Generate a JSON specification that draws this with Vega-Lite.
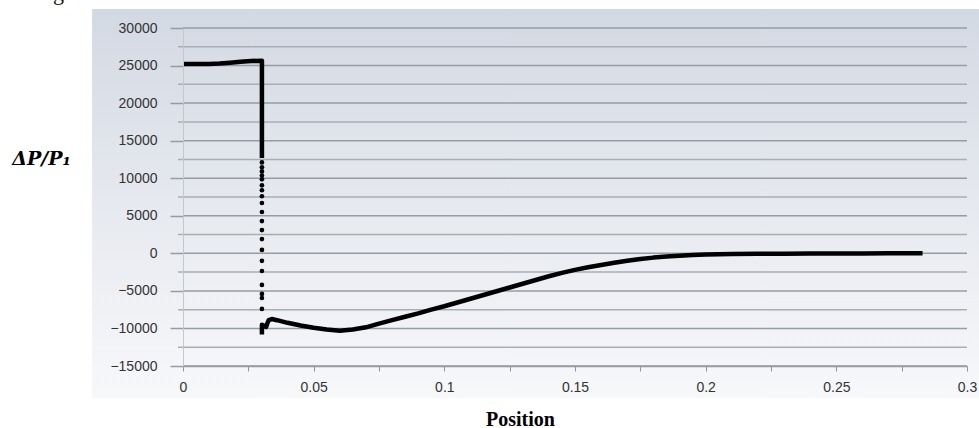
{
  "$schema": "https://vega.github.io/schema/vega-lite/v6.json",
  "autosize": "none",
  "width": 784,
  "height": 338,
  "padding": {"left": 183, "top": 28, "right": 12, "bottom": 62},
  "background": "#ffffff",
  "config": {"view": {"stroke": null}},
  "title": {
    "text": "to Figure 3.",
    "anchor": "start",
    "frame": "group",
    "font": "Liberation Serif",
    "fontSize": 22,
    "fontWeight": "normal",
    "color": "#111111",
    "baseline": "alphabetic",
    "offset": 0,
    "dx": -171,
    "dy": 13
  },
  "datasets": {
    "grid": [
      {"v": -15000}, {"v": -12500}, {"v": -10000}, {"v": -7500}, {"v": -5000},
      {"v": -2500}, {"v": 0}, {"v": 2500}, {"v": 5000}, {"v": 7500},
      {"v": 10000}, {"v": 12500}, {"v": 15000}, {"v": 17500}, {"v": 20000},
      {"v": 22500}, {"v": 25000}, {"v": 27500}, {"v": 30000}
    ],
    "curve": [
      {"position": 0, "dp": 25200, "seg": "upper"},
      {"position": 0.005, "dp": 25200, "seg": "upper"},
      {"position": 0.01, "dp": 25220, "seg": "upper"},
      {"position": 0.014, "dp": 25260, "seg": "upper"},
      {"position": 0.018, "dp": 25380, "seg": "upper"},
      {"position": 0.022, "dp": 25500, "seg": "upper"},
      {"position": 0.026, "dp": 25600, "seg": "upper"},
      {"position": 0.0302, "dp": 25650, "seg": "upper"},
      {"position": 0.0302, "dp": 12700, "seg": "upper"},
      {"position": 0.0302, "dp": -10800, "seg": "lower"},
      {"position": 0.0302, "dp": -9500, "seg": "lower"},
      {"position": 0.031, "dp": -9650, "seg": "lower"},
      {"position": 0.0318, "dp": -9800, "seg": "lower"},
      {"position": 0.0322, "dp": -9400, "seg": "lower"},
      {"position": 0.0328, "dp": -8900, "seg": "lower"},
      {"position": 0.034, "dp": -8750, "seg": "lower"},
      {"position": 0.036, "dp": -8900, "seg": "lower"},
      {"position": 0.04, "dp": -9250, "seg": "lower"},
      {"position": 0.045, "dp": -9600, "seg": "lower"},
      {"position": 0.05, "dp": -9900, "seg": "lower"},
      {"position": 0.055, "dp": -10150, "seg": "lower"},
      {"position": 0.06, "dp": -10300, "seg": "lower"},
      {"position": 0.065, "dp": -10150, "seg": "lower"},
      {"position": 0.07, "dp": -9850, "seg": "lower"},
      {"position": 0.075, "dp": -9350, "seg": "lower"},
      {"position": 0.08, "dp": -8900, "seg": "lower"},
      {"position": 0.085, "dp": -8450, "seg": "lower"},
      {"position": 0.09, "dp": -8000, "seg": "lower"},
      {"position": 0.095, "dp": -7500, "seg": "lower"},
      {"position": 0.1, "dp": -7050, "seg": "lower"},
      {"position": 0.105, "dp": -6550, "seg": "lower"},
      {"position": 0.11, "dp": -6050, "seg": "lower"},
      {"position": 0.115, "dp": -5550, "seg": "lower"},
      {"position": 0.12, "dp": -5050, "seg": "lower"},
      {"position": 0.125, "dp": -4550, "seg": "lower"},
      {"position": 0.13, "dp": -4050, "seg": "lower"},
      {"position": 0.135, "dp": -3550, "seg": "lower"},
      {"position": 0.14, "dp": -3050, "seg": "lower"},
      {"position": 0.145, "dp": -2600, "seg": "lower"},
      {"position": 0.15, "dp": -2200, "seg": "lower"},
      {"position": 0.155, "dp": -1850, "seg": "lower"},
      {"position": 0.16, "dp": -1550, "seg": "lower"},
      {"position": 0.165, "dp": -1250, "seg": "lower"},
      {"position": 0.17, "dp": -980, "seg": "lower"},
      {"position": 0.175, "dp": -760, "seg": "lower"},
      {"position": 0.18, "dp": -570, "seg": "lower"},
      {"position": 0.185, "dp": -420, "seg": "lower"},
      {"position": 0.19, "dp": -310, "seg": "lower"},
      {"position": 0.195, "dp": -230, "seg": "lower"},
      {"position": 0.2, "dp": -170, "seg": "lower"},
      {"position": 0.21, "dp": -100, "seg": "lower"},
      {"position": 0.22, "dp": -60, "seg": "lower"},
      {"position": 0.23, "dp": -40, "seg": "lower"},
      {"position": 0.24, "dp": -25, "seg": "lower"},
      {"position": 0.25, "dp": -15, "seg": "lower"},
      {"position": 0.26, "dp": -10, "seg": "lower"},
      {"position": 0.27, "dp": -5, "seg": "lower"},
      {"position": 0.283, "dp": 0, "seg": "lower"}
    ],
    "drop": [
      {"position": 0.0302, "dp": 12100},
      {"position": 0.0302, "dp": 11450},
      {"position": 0.0302, "dp": 10900},
      {"position": 0.0302, "dp": 10350},
      {"position": 0.0302, "dp": 9850},
      {"position": 0.0302, "dp": 9050},
      {"position": 0.0302, "dp": 8400},
      {"position": 0.0302, "dp": 7600},
      {"position": 0.0302, "dp": 6700},
      {"position": 0.0302, "dp": 5500},
      {"position": 0.0302, "dp": 4300},
      {"position": 0.0302, "dp": 3100},
      {"position": 0.0302, "dp": 1900},
      {"position": 0.0302, "dp": 450},
      {"position": 0.0302, "dp": -1000},
      {"position": 0.0302, "dp": -2350},
      {"position": 0.0302, "dp": -4200},
      {"position": 0.0302, "dp": -5400},
      {"position": 0.0302, "dp": -5950},
      {"position": 0.0302, "dp": -7400}
    ]
  },
  "layer": [
    {
      "data": {"values": [{}]},
      "mark": {
        "type": "rect",
        "fill": {
          "gradient": "linear",
          "x1": 0, "y1": 0, "x2": 0, "y2": 1,
          "stops": [
            {"offset": 0, "color": "#d3d9e3"},
            {"offset": 0.5, "color": "#e6e9ef"},
            {"offset": 1, "color": "#f7f8fa"}
          ]
        }
      },
      "encoding": {
        "x": {"datum": -0.0348, "type": "quantitative", "scale": {"domain": [0, 0.3], "nice": false, "zero": false},
          "axis": {
            "zindex": 1,
            "title": "Position",
            "titleFont": "Liberation Serif",
            "titleFontSize": 20,
            "titleFontWeight": "bold",
            "titleColor": "#000000",
            "titleX": 337,
            "titleY": 53,
            "titleBaseline": "middle",
            "titleAlign": "center",
            "values": [0, 0.025, 0.05, 0.075, 0.1, 0.125, 0.15, 0.175, 0.2, 0.225, 0.25, 0.275, 0.3],
            "tickCount": 30,
            "format": "~g",
            "labelExpr": "abs(round(datum.value * 20) - datum.value * 20) < 0.000001 ? datum.label : ''",
            "labelFont": "Liberation Sans",
            "labelFontSize": 14,
            "labelColor": "#333333",
            "labelPadding": 9,
            "labelFlush": false,
            "labelOverlap": false,
            "grid": false,
            "domain": true,
            "domainColor": "#969ba4",
            "domainWidth": 1.5,
            "tickColor": "#8f949c",
            "tickSize": 5,
            "tickWidth": 1
          }
        },
        "x2": {"datum": 0.3046},
        "y": {"datum": 32520, "type": "quantitative", "scale": {"domain": [-15000, 30000], "nice": false, "zero": false},
          "axis": {
            "zindex": 1,
            "title": "ΔP/P₁",
            "titleFont": "DejaVu Serif",
            "titleFontSize": 19,
            "titleFontWeight": "bold",
            "titleFontStyle": "italic",
            "titleColor": "#000000",
            "titleAngle": 0,
            "titleX": -142,
            "titleY": 130,
            "titleAlign": "center",
            "titleBaseline": "middle",
            "values": [-15000, -10000, -5000, 0, 5000, 10000, 15000, 20000, 25000, 30000],
            "tickCount": 20,
            "format": "d",
            "labelFont": "Liberation Sans",
            "labelFontSize": 14,
            "labelColor": "#333333",
            "labelPadding": 13,
            "labelOverlap": false,
            "labelFlush": false,
            "grid": false,
            "domain": true,
            "domainColor": "#c3c7ce",
            "domainWidth": 1,
            "tickColor": "#969ba4",
            "tickWidth": 1.5,
            "tickSize": 13
          }
        },
        "y2": {"datum": -19260}
      }
    },
    {
      "data": {"name": "grid"},
      "transform": [{"filter": "datum.v % 5000 === 0"}],
      "mark": {"type": "rule", "strokeWidth": 1.5, "color": "#969ba4"},
      "encoding": {
        "y": {"field": "v", "type": "quantitative"}
      }
    },
    {
      "data": {"name": "grid"},
      "transform": [{"filter": "datum.v % 5000 !== 0"}],
      "mark": {"type": "rule", "strokeWidth": 1.5, "color": "#a9aeb6"},
      "encoding": {
        "y": {"field": "v", "type": "quantitative"},
        "x": {"datum": -0.0019, "type": "quantitative"},
        "x2": {"datum": 0.3}
      }
    },
    {
      "data": {"name": "curve"},
      "mark": {"type": "line", "color": "#000000", "strokeWidth": 4.5, "strokeJoin": "round", "strokeCap": "butt"},
      "encoding": {
        "x": {"field": "position", "type": "quantitative"},
        "y": {"field": "dp", "type": "quantitative"},
        "detail": {"field": "seg"}
      }
    },
    {
      "data": {"name": "drop"},
      "mark": {"type": "point", "filled": true, "color": "#000000", "size": 22, "opacity": 1},
      "encoding": {
        "x": {"field": "position", "type": "quantitative"},
        "y": {"field": "dp", "type": "quantitative"}
      }
    }
  ]
}
